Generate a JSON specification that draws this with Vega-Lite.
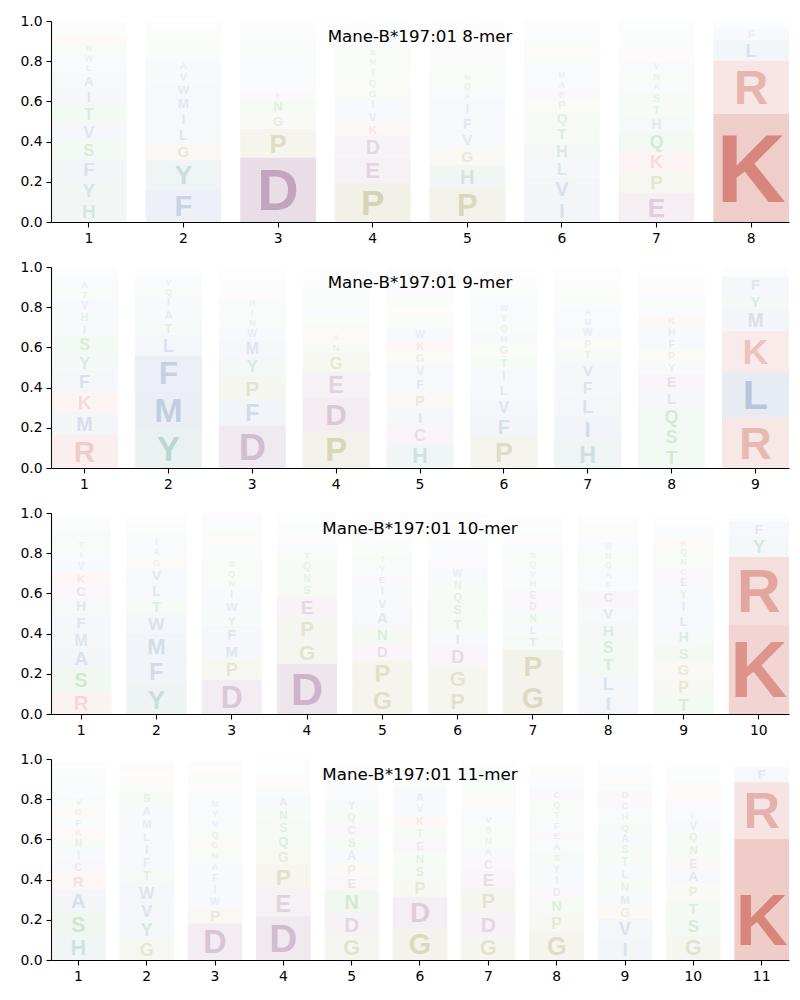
{
"$schema": "https://vega.github.io/schema/vega-lite/v6.json",
"padding": {"left": 19, "top": 14, "right": 5, "bottom": 5},
"spacing": 15,
"datasets": {
"m8": [
{"pos":1,"aa":"H","freq":0.106},{"pos":1,"aa":"Y","freq":0.105},{"pos":1,"aa":"F","freq":0.103},{"pos":1,"aa":"S","freq":0.09},{"pos":1,"aa":"V","freq":0.089},{"pos":1,"aa":"T","freq":0.088},{"pos":1,"aa":"I","freq":0.083},{"pos":1,"aa":"A","freq":0.076},{"pos":1,"aa":"L","freq":0.05},{"pos":1,"aa":"W","freq":0.049},{"pos":1,"aa":"N","freq":0.045},{"pos":1,"aa":"R","freq":0.044},{"pos":1,"aa":"Q","freq":0.025},{"pos":1,"aa":"K","freq":0.02},{"pos":1,"aa":"C","freq":0.015},{"pos":1,"aa":"D","freq":0.006},{"pos":1,"aa":"E","freq":0.005},
{"pos":2,"aa":"F","freq":0.163},{"pos":2,"aa":"Y","freq":0.143},{"pos":2,"aa":"G","freq":0.086},{"pos":2,"aa":"L","freq":0.08},{"pos":2,"aa":"I","freq":0.078},{"pos":2,"aa":"M","freq":0.075},{"pos":2,"aa":"W","freq":0.066},{"pos":2,"aa":"V","freq":0.06},{"pos":2,"aa":"A","freq":0.055},{"pos":2,"aa":"T","freq":0.04},{"pos":2,"aa":"S","freq":0.035},{"pos":2,"aa":"N","freq":0.03},{"pos":2,"aa":"Q","freq":0.025},{"pos":2,"aa":"H","freq":0.02},{"pos":2,"aa":"E","freq":0.015},{"pos":2,"aa":"R","freq":0.011},{"pos":2,"aa":"D","freq":0.01},{"pos":2,"aa":"K","freq":0.008},
{"pos":3,"aa":"D","freq":0.32},{"pos":3,"aa":"P","freq":0.143},{"pos":3,"aa":"G","freq":0.073},{"pos":3,"aa":"N","freq":0.071},{"pos":3,"aa":"E","freq":0.045},{"pos":3,"aa":"L","freq":0.042},{"pos":3,"aa":"I","freq":0.04},{"pos":3,"aa":"A","freq":0.038},{"pos":3,"aa":"V","freq":0.037},{"pos":3,"aa":"S","freq":0.035},{"pos":3,"aa":"T","freq":0.034},{"pos":3,"aa":"Y","freq":0.03},{"pos":3,"aa":"W","freq":0.026},{"pos":3,"aa":"K","freq":0.025},{"pos":3,"aa":"H","freq":0.02},{"pos":3,"aa":"Q","freq":0.015},{"pos":3,"aa":"R","freq":0.006},
{"pos":4,"aa":"P","freq":0.196},{"pos":4,"aa":"E","freq":0.124},{"pos":4,"aa":"D","freq":0.109},{"pos":4,"aa":"K","freq":0.066},{"pos":4,"aa":"V","freq":0.061},{"pos":4,"aa":"I","freq":0.058},{"pos":4,"aa":"G","freq":0.055},{"pos":4,"aa":"Q","freq":0.052},{"pos":4,"aa":"T","freq":0.05},{"pos":4,"aa":"N","freq":0.048},{"pos":4,"aa":"S","freq":0.045},{"pos":4,"aa":"A","freq":0.035},{"pos":4,"aa":"L","freq":0.03},{"pos":4,"aa":"R","freq":0.025},{"pos":4,"aa":"F","freq":0.02},{"pos":4,"aa":"H","freq":0.015},{"pos":4,"aa":"W","freq":0.011},
{"pos":5,"aa":"P","freq":0.171},{"pos":5,"aa":"H","freq":0.113},{"pos":5,"aa":"G","freq":0.086},{"pos":5,"aa":"V","freq":0.08},{"pos":5,"aa":"F","freq":0.077},{"pos":5,"aa":"I","freq":0.075},{"pos":5,"aa":"A","freq":0.048},{"pos":5,"aa":"Q","freq":0.047},{"pos":5,"aa":"N","freq":0.045},{"pos":5,"aa":"T","freq":0.04},{"pos":5,"aa":"L","freq":0.038},{"pos":5,"aa":"E","freq":0.035},{"pos":5,"aa":"Y","freq":0.031},{"pos":5,"aa":"D","freq":0.03},{"pos":5,"aa":"K","freq":0.026},{"pos":5,"aa":"M","freq":0.025},{"pos":5,"aa":"R","freq":0.02},{"pos":5,"aa":"W","freq":0.013},
{"pos":6,"aa":"I","freq":0.11},{"pos":6,"aa":"V","freq":0.108},{"pos":6,"aa":"L","freq":0.09},{"pos":6,"aa":"H","freq":0.088},{"pos":6,"aa":"T","freq":0.08},{"pos":6,"aa":"Q","freq":0.075},{"pos":6,"aa":"P","freq":0.058},{"pos":6,"aa":"E","freq":0.05},{"pos":6,"aa":"A","freq":0.049},{"pos":6,"aa":"M","freq":0.048},{"pos":6,"aa":"W","freq":0.04},{"pos":6,"aa":"N","freq":0.035},{"pos":6,"aa":"K","freq":0.031},{"pos":6,"aa":"S","freq":0.03},{"pos":6,"aa":"G","freq":0.026},{"pos":6,"aa":"F","freq":0.025},{"pos":6,"aa":"Y","freq":0.024},{"pos":6,"aa":"R","freq":0.02},{"pos":6,"aa":"D","freq":0.013},
{"pos":7,"aa":"E","freq":0.145},{"pos":7,"aa":"P","freq":0.105},{"pos":7,"aa":"K","freq":0.1},{"pos":7,"aa":"Q","freq":0.098},{"pos":7,"aa":"H","freq":0.078},{"pos":7,"aa":"T","freq":0.063},{"pos":7,"aa":"S","freq":0.058},{"pos":7,"aa":"A","freq":0.052},{"pos":7,"aa":"N","freq":0.05},{"pos":7,"aa":"V","freq":0.049},{"pos":7,"aa":"R","freq":0.035},{"pos":7,"aa":"D","freq":0.032},{"pos":7,"aa":"Y","freq":0.03},{"pos":7,"aa":"G","freq":0.025},{"pos":7,"aa":"L","freq":0.022},{"pos":7,"aa":"F","freq":0.018},{"pos":7,"aa":"W","freq":0.016},{"pos":7,"aa":"M","freq":0.014},{"pos":7,"aa":"C","freq":0.01},
{"pos":8,"aa":"K","freq":0.537},{"pos":8,"aa":"R","freq":0.265},{"pos":8,"aa":"L","freq":0.103},{"pos":8,"aa":"F","freq":0.058},{"pos":8,"aa":"M","freq":0.015},{"pos":8,"aa":"Y","freq":0.01},{"pos":8,"aa":"H","freq":0.007},{"pos":8,"aa":"I","freq":0.005}
],
"m9": [
{"pos":1,"aa":"R","freq":0.165},{"pos":1,"aa":"M","freq":0.11},{"pos":1,"aa":"K","freq":0.105},{"pos":1,"aa":"F","freq":0.1},{"pos":1,"aa":"Y","freq":0.09},{"pos":1,"aa":"S","freq":0.088},{"pos":1,"aa":"I","freq":0.063},{"pos":1,"aa":"H","freq":0.058},{"pos":1,"aa":"V","freq":0.057},{"pos":1,"aa":"T","freq":0.052},{"pos":1,"aa":"A","freq":0.05},{"pos":1,"aa":"W","freq":0.02},{"pos":1,"aa":"L","freq":0.015},{"pos":1,"aa":"Q","freq":0.011},{"pos":1,"aa":"E","freq":0.009},{"pos":1,"aa":"N","freq":0.007},
{"pos":2,"aa":"Y","freq":0.192},{"pos":2,"aa":"M","freq":0.19},{"pos":2,"aa":"F","freq":0.177},{"pos":2,"aa":"L","freq":0.1},{"pos":2,"aa":"T","freq":0.07},{"pos":2,"aa":"A","freq":0.065},{"pos":2,"aa":"I","freq":0.058},{"pos":2,"aa":"Q","freq":0.05},{"pos":2,"aa":"V","freq":0.045},{"pos":2,"aa":"W","freq":0.02},{"pos":2,"aa":"H","freq":0.012},{"pos":2,"aa":"N","freq":0.011},{"pos":2,"aa":"S","freq":0.009},
{"pos":3,"aa":"D","freq":0.21},{"pos":3,"aa":"F","freq":0.13},{"pos":3,"aa":"P","freq":0.117},{"pos":3,"aa":"Y","freq":0.095},{"pos":3,"aa":"M","freq":0.088},{"pos":3,"aa":"W","freq":0.058},{"pos":3,"aa":"N","freq":0.05},{"pos":3,"aa":"I","freq":0.048},{"pos":3,"aa":"H","freq":0.047},{"pos":3,"aa":"K","freq":0.03},{"pos":3,"aa":"V","freq":0.025},{"pos":3,"aa":"T","freq":0.021},{"pos":3,"aa":"E","freq":0.02},{"pos":3,"aa":"S","freq":0.015},{"pos":3,"aa":"A","freq":0.013},{"pos":3,"aa":"L","freq":0.011},{"pos":3,"aa":"Q","freq":0.009},{"pos":3,"aa":"G","freq":0.006},
{"pos":4,"aa":"P","freq":0.183},{"pos":4,"aa":"D","freq":0.167},{"pos":4,"aa":"E","freq":0.13},{"pos":4,"aa":"G","freq":0.092},{"pos":4,"aa":"N","freq":0.055},{"pos":4,"aa":"K","freq":0.045},{"pos":4,"aa":"S","freq":0.044},{"pos":4,"aa":"Q","freq":0.04},{"pos":4,"aa":"A","freq":0.039},{"pos":4,"aa":"T","freq":0.035},{"pos":4,"aa":"V","freq":0.03},{"pos":4,"aa":"L","freq":0.028},{"pos":4,"aa":"H","freq":0.025},{"pos":4,"aa":"R","freq":0.02},{"pos":4,"aa":"I","freq":0.017},{"pos":4,"aa":"Y","freq":0.015},{"pos":4,"aa":"F","freq":0.012},{"pos":4,"aa":"W","freq":0.01},{"pos":4,"aa":"M","freq":0.008},
{"pos":5,"aa":"H","freq":0.12},{"pos":5,"aa":"C","freq":0.09},{"pos":5,"aa":"I","freq":0.085},{"pos":5,"aa":"P","freq":0.082},{"pos":5,"aa":"F","freq":0.07},{"pos":5,"aa":"V","freq":0.068},{"pos":5,"aa":"G","freq":0.062},{"pos":5,"aa":"K","freq":0.06},{"pos":5,"aa":"W","freq":0.057},{"pos":5,"aa":"N","freq":0.04},{"pos":5,"aa":"T","freq":0.035},{"pos":5,"aa":"R","freq":0.032},{"pos":5,"aa":"S","freq":0.031},{"pos":5,"aa":"Q","freq":0.03},{"pos":5,"aa":"E","freq":0.029},{"pos":5,"aa":"A","freq":0.028},{"pos":5,"aa":"L","freq":0.025},{"pos":5,"aa":"Y","freq":0.021},{"pos":5,"aa":"D","freq":0.02},{"pos":5,"aa":"M","freq":0.015},
{"pos":6,"aa":"P","freq":0.15},{"pos":6,"aa":"F","freq":0.11},{"pos":6,"aa":"V","freq":0.088},{"pos":6,"aa":"L","freq":0.075},{"pos":6,"aa":"I","freq":0.07},{"pos":6,"aa":"T","freq":0.063},{"pos":6,"aa":"G","freq":0.062},{"pos":6,"aa":"H","freq":0.055},{"pos":6,"aa":"Q","freq":0.05},{"pos":6,"aa":"Y","freq":0.048},{"pos":6,"aa":"W","freq":0.047},{"pos":6,"aa":"A","freq":0.03},{"pos":6,"aa":"N","freq":0.026},{"pos":6,"aa":"S","freq":0.025},{"pos":6,"aa":"K","freq":0.021},{"pos":6,"aa":"E","freq":0.02},{"pos":6,"aa":"D","freq":0.016},{"pos":6,"aa":"M","freq":0.015},{"pos":6,"aa":"R","freq":0.011},{"pos":6,"aa":"C","freq":0.01},
{"pos":7,"aa":"H","freq":0.13},{"pos":7,"aa":"I","freq":0.125},{"pos":7,"aa":"L","freq":0.1},{"pos":7,"aa":"F","freq":0.09},{"pos":7,"aa":"V","freq":0.085},{"pos":7,"aa":"T","freq":0.058},{"pos":7,"aa":"P","freq":0.057},{"pos":7,"aa":"W","freq":0.056},{"pos":7,"aa":"M","freq":0.05},{"pos":7,"aa":"A","freq":0.049},{"pos":7,"aa":"Y","freq":0.031},{"pos":7,"aa":"S","freq":0.03},{"pos":7,"aa":"N","freq":0.025},{"pos":7,"aa":"Q","freq":0.021},{"pos":7,"aa":"E","freq":0.02},{"pos":7,"aa":"K","freq":0.019},{"pos":7,"aa":"G","freq":0.015},{"pos":7,"aa":"R","freq":0.011},{"pos":7,"aa":"D","freq":0.01},{"pos":7,"aa":"C","freq":0.009},
{"pos":8,"aa":"T","freq":0.105},{"pos":8,"aa":"S","freq":0.1},{"pos":8,"aa":"Q","freq":0.098},{"pos":8,"aa":"L","freq":0.083},{"pos":8,"aa":"E","freq":0.082},{"pos":8,"aa":"Y","freq":0.061},{"pos":8,"aa":"P","freq":0.06},{"pos":8,"aa":"F","freq":0.058},{"pos":8,"aa":"H","freq":0.057},{"pos":8,"aa":"K","freq":0.055},{"pos":8,"aa":"A","freq":0.04},{"pos":8,"aa":"N","freq":0.035},{"pos":8,"aa":"V","freq":0.031},{"pos":8,"aa":"R","freq":0.03},{"pos":8,"aa":"W","freq":0.025},{"pos":8,"aa":"D","freq":0.021},{"pos":8,"aa":"G","freq":0.02},{"pos":8,"aa":"M","freq":0.015},{"pos":8,"aa":"I","freq":0.012},
{"pos":9,"aa":"R","freq":0.25},{"pos":9,"aa":"L","freq":0.23},{"pos":9,"aa":"K","freq":0.2},{"pos":9,"aa":"M","freq":0.108},{"pos":9,"aa":"Y","freq":0.083},{"pos":9,"aa":"F","freq":0.082},{"pos":9,"aa":"V","freq":0.015},{"pos":9,"aa":"I","freq":0.012},{"pos":9,"aa":"H","freq":0.01},{"pos":9,"aa":"W","freq":0.008}
],
"m10": [
{"pos":1,"aa":"R","freq":0.113},{"pos":1,"aa":"S","freq":0.109},{"pos":1,"aa":"A","freq":0.103},{"pos":1,"aa":"M","freq":0.088},{"pos":1,"aa":"F","freq":0.083},{"pos":1,"aa":"H","freq":0.078},{"pos":1,"aa":"C","freq":0.07},{"pos":1,"aa":"K","freq":0.063},{"pos":1,"aa":"V","freq":0.058},{"pos":1,"aa":"I","freq":0.053},{"pos":1,"aa":"T","freq":0.046},{"pos":1,"aa":"Y","freq":0.04},{"pos":1,"aa":"Q","freq":0.03},{"pos":1,"aa":"G","freq":0.025},{"pos":1,"aa":"N","freq":0.02},{"pos":1,"aa":"L","freq":0.012},{"pos":1,"aa":"W","freq":0.009},
{"pos":2,"aa":"Y","freq":0.146},{"pos":2,"aa":"F","freq":0.129},{"pos":2,"aa":"M","freq":0.124},{"pos":2,"aa":"W","freq":0.096},{"pos":2,"aa":"T","freq":0.078},{"pos":2,"aa":"L","freq":0.077},{"pos":2,"aa":"V","freq":0.076},{"pos":2,"aa":"G","freq":0.053},{"pos":2,"aa":"A","freq":0.05},{"pos":2,"aa":"I","freq":0.049},{"pos":2,"aa":"S","freq":0.03},{"pos":2,"aa":"H","freq":0.021},{"pos":2,"aa":"N","freq":0.02},{"pos":2,"aa":"Q","freq":0.017},{"pos":2,"aa":"E","freq":0.011},{"pos":2,"aa":"K","freq":0.01},{"pos":2,"aa":"P","freq":0.006},
{"pos":3,"aa":"D","freq":0.17},{"pos":3,"aa":"P","freq":0.1},{"pos":3,"aa":"M","freq":0.083},{"pos":3,"aa":"F","freq":0.082},{"pos":3,"aa":"Y","freq":0.066},{"pos":3,"aa":"W","freq":0.065},{"pos":3,"aa":"I","freq":0.058},{"pos":3,"aa":"N","freq":0.05},{"pos":3,"aa":"Q","freq":0.049},{"pos":3,"aa":"S","freq":0.048},{"pos":3,"aa":"A","freq":0.04},{"pos":3,"aa":"H","freq":0.035},{"pos":3,"aa":"K","freq":0.031},{"pos":3,"aa":"T","freq":0.03},{"pos":3,"aa":"V","freq":0.026},{"pos":3,"aa":"L","freq":0.025},{"pos":3,"aa":"E","freq":0.02},{"pos":3,"aa":"C","freq":0.014},{"pos":3,"aa":"R","freq":0.008},
{"pos":4,"aa":"D","freq":0.25},{"pos":4,"aa":"G","freq":0.116},{"pos":4,"aa":"P","freq":0.113},{"pos":4,"aa":"E","freq":0.106},{"pos":4,"aa":"S","freq":0.06},{"pos":4,"aa":"N","freq":0.059},{"pos":4,"aa":"Q","freq":0.058},{"pos":4,"aa":"T","freq":0.05},{"pos":4,"aa":"A","freq":0.041},{"pos":4,"aa":"K","freq":0.03},{"pos":4,"aa":"V","freq":0.025},{"pos":4,"aa":"H","freq":0.021},{"pos":4,"aa":"W","freq":0.02},{"pos":4,"aa":"L","freq":0.015},{"pos":4,"aa":"Y","freq":0.011},{"pos":4,"aa":"R","freq":0.01},{"pos":4,"aa":"F","freq":0.009},{"pos":4,"aa":"M","freq":0.006},
{"pos":5,"aa":"G","freq":0.135},{"pos":5,"aa":"P","freq":0.133},{"pos":5,"aa":"D","freq":0.085},{"pos":5,"aa":"N","freq":0.083},{"pos":5,"aa":"A","freq":0.08},{"pos":5,"aa":"V","freq":0.065},{"pos":5,"aa":"I","freq":0.06},{"pos":5,"aa":"E","freq":0.055},{"pos":5,"aa":"Y","freq":0.05},{"pos":5,"aa":"T","freq":0.045},{"pos":5,"aa":"S","freq":0.04},{"pos":5,"aa":"W","freq":0.03},{"pos":5,"aa":"K","freq":0.025},{"pos":5,"aa":"C","freq":0.022},{"pos":5,"aa":"L","freq":0.021},{"pos":5,"aa":"H","freq":0.02},{"pos":5,"aa":"Q","freq":0.016},{"pos":5,"aa":"F","freq":0.015},{"pos":5,"aa":"M","freq":0.011},{"pos":5,"aa":"R","freq":0.01},
{"pos":6,"aa":"P","freq":0.12},{"pos":6,"aa":"G","freq":0.115},{"pos":6,"aa":"D","freq":0.1},{"pos":6,"aa":"I","freq":0.075},{"pos":6,"aa":"T","freq":0.074},{"pos":6,"aa":"S","freq":0.07},{"pos":6,"aa":"Q","freq":0.06},{"pos":6,"aa":"N","freq":0.058},{"pos":6,"aa":"W","freq":0.057},{"pos":6,"aa":"E","freq":0.04},{"pos":6,"aa":"F","freq":0.035},{"pos":6,"aa":"A","freq":0.031},{"pos":6,"aa":"H","freq":0.03},{"pos":6,"aa":"V","freq":0.025},{"pos":6,"aa":"K","freq":0.022},{"pos":6,"aa":"L","freq":0.021},{"pos":6,"aa":"Y","freq":0.02},{"pos":6,"aa":"M","freq":0.016},{"pos":6,"aa":"R","freq":0.015},{"pos":6,"aa":"C","freq":0.01},
{"pos":7,"aa":"G","freq":0.16},{"pos":7,"aa":"P","freq":0.158},{"pos":7,"aa":"T","freq":0.07},{"pos":7,"aa":"L","freq":0.06},{"pos":7,"aa":"N","freq":0.059},{"pos":7,"aa":"D","freq":0.057},{"pos":7,"aa":"E","freq":0.056},{"pos":7,"aa":"H","freq":0.05},{"pos":7,"aa":"V","freq":0.049},{"pos":7,"aa":"Q","freq":0.048},{"pos":7,"aa":"S","freq":0.045},{"pos":7,"aa":"A","freq":0.035},{"pos":7,"aa":"K","freq":0.031},{"pos":7,"aa":"Y","freq":0.03},{"pos":7,"aa":"W","freq":0.025},{"pos":7,"aa":"F","freq":0.02},{"pos":7,"aa":"M","freq":0.015},{"pos":7,"aa":"R","freq":0.01},{"pos":7,"aa":"I","freq":0.009},
{"pos":8,"aa":"I","freq":0.1},{"pos":8,"aa":"L","freq":0.099},{"pos":8,"aa":"T","freq":0.088},{"pos":8,"aa":"S","freq":0.087},{"pos":8,"aa":"H","freq":0.086},{"pos":8,"aa":"V","freq":0.08},{"pos":8,"aa":"C","freq":0.075},{"pos":8,"aa":"F","freq":0.05},{"pos":8,"aa":"A","freq":0.049},{"pos":8,"aa":"Q","freq":0.048},{"pos":8,"aa":"N","freq":0.047},{"pos":8,"aa":"W","freq":0.046},{"pos":8,"aa":"M","freq":0.03},{"pos":8,"aa":"K","freq":0.025},{"pos":8,"aa":"Y","freq":0.021},{"pos":8,"aa":"E","freq":0.02},{"pos":8,"aa":"R","freq":0.015},{"pos":8,"aa":"G","freq":0.011},{"pos":8,"aa":"D","freq":0.01},
{"pos":9,"aa":"T","freq":0.09},{"pos":9,"aa":"P","freq":0.088},{"pos":9,"aa":"G","freq":0.083},{"pos":9,"aa":"S","freq":0.082},{"pos":9,"aa":"H","freq":0.08},{"pos":9,"aa":"L","freq":0.075},{"pos":9,"aa":"I","freq":0.07},{"pos":9,"aa":"Y","freq":0.058},{"pos":9,"aa":"E","freq":0.057},{"pos":9,"aa":"C","freq":0.05},{"pos":9,"aa":"N","freq":0.048},{"pos":9,"aa":"Q","freq":0.046},{"pos":9,"aa":"K","freq":0.045},{"pos":9,"aa":"A","freq":0.04},{"pos":9,"aa":"V","freq":0.025},{"pos":9,"aa":"F","freq":0.015},{"pos":9,"aa":"W","freq":0.011},{"pos":9,"aa":"M","freq":0.01},{"pos":9,"aa":"D","freq":0.009},
{"pos":10,"aa":"K","freq":0.441},{"pos":10,"aa":"R","freq":0.34},{"pos":10,"aa":"Y","freq":0.1},{"pos":10,"aa":"F","freq":0.075},{"pos":10,"aa":"L","freq":0.02},{"pos":10,"aa":"M","freq":0.012},{"pos":10,"aa":"H","freq":0.01}
],
"m11": [
{"pos":1,"aa":"H","freq":0.12},{"pos":1,"aa":"S","freq":0.118},{"pos":1,"aa":"A","freq":0.112},{"pos":1,"aa":"R","freq":0.085},{"pos":1,"aa":"C","freq":0.058},{"pos":1,"aa":"I","freq":0.057},{"pos":1,"aa":"N","freq":0.056},{"pos":1,"aa":"K","freq":0.053},{"pos":1,"aa":"F","freq":0.052},{"pos":1,"aa":"G","freq":0.05},{"pos":1,"aa":"V","freq":0.049},{"pos":1,"aa":"M","freq":0.035},{"pos":1,"aa":"Y","freq":0.031},{"pos":1,"aa":"T","freq":0.03},{"pos":1,"aa":"L","freq":0.025},{"pos":1,"aa":"Q","freq":0.02},{"pos":1,"aa":"W","freq":0.015},{"pos":1,"aa":"E","freq":0.011},{"pos":1,"aa":"D","freq":0.01},
{"pos":2,"aa":"G","freq":0.1},{"pos":2,"aa":"Y","freq":0.099},{"pos":2,"aa":"V","freq":0.092},{"pos":2,"aa":"W","freq":0.091},{"pos":2,"aa":"T","freq":0.068},{"pos":2,"aa":"F","freq":0.067},{"pos":2,"aa":"I","freq":0.066},{"pos":2,"aa":"L","freq":0.065},{"pos":2,"aa":"M","freq":0.064},{"pos":2,"aa":"A","freq":0.063},{"pos":2,"aa":"S","freq":0.062},{"pos":2,"aa":"Q","freq":0.04},{"pos":2,"aa":"K","freq":0.035},{"pos":2,"aa":"R","freq":0.03},{"pos":2,"aa":"E","freq":0.025},{"pos":2,"aa":"N","freq":0.02},{"pos":2,"aa":"H","freq":0.013},
{"pos":3,"aa":"D","freq":0.18},{"pos":3,"aa":"P","freq":0.085},{"pos":3,"aa":"W","freq":0.058},{"pos":3,"aa":"I","freq":0.057},{"pos":3,"aa":"F","freq":0.056},{"pos":3,"aa":"A","freq":0.055},{"pos":3,"aa":"N","freq":0.054},{"pos":3,"aa":"G","freq":0.053},{"pos":3,"aa":"Q","freq":0.052},{"pos":3,"aa":"V","freq":0.05},{"pos":3,"aa":"Y","freq":0.049},{"pos":3,"aa":"M","freq":0.048},{"pos":3,"aa":"H","freq":0.04},{"pos":3,"aa":"K","freq":0.032},{"pos":3,"aa":"T","freq":0.031},{"pos":3,"aa":"S","freq":0.03},{"pos":3,"aa":"R","freq":0.021},{"pos":3,"aa":"L","freq":0.02},{"pos":3,"aa":"E","freq":0.015},
{"pos":4,"aa":"D","freq":0.216},{"pos":4,"aa":"E","freq":0.133},{"pos":4,"aa":"P","freq":0.126},{"pos":4,"aa":"G","freq":0.078},{"pos":4,"aa":"Q","freq":0.074},{"pos":4,"aa":"S","freq":0.066},{"pos":4,"aa":"N","freq":0.065},{"pos":4,"aa":"A","freq":0.064},{"pos":4,"aa":"T","freq":0.04},{"pos":4,"aa":"K","freq":0.03},{"pos":4,"aa":"V","freq":0.025},{"pos":4,"aa":"H","freq":0.02},{"pos":4,"aa":"L","freq":0.015},{"pos":4,"aa":"Y","freq":0.012},{"pos":4,"aa":"R","freq":0.011},{"pos":4,"aa":"W","freq":0.01},{"pos":4,"aa":"I","freq":0.009},{"pos":4,"aa":"F","freq":0.008},
{"pos":5,"aa":"G","freq":0.12},{"pos":5,"aa":"D","freq":0.115},{"pos":5,"aa":"N","freq":0.11},{"pos":5,"aa":"E","freq":0.07},{"pos":5,"aa":"P","freq":0.069},{"pos":5,"aa":"A","freq":0.068},{"pos":5,"aa":"S","freq":0.066},{"pos":5,"aa":"C","freq":0.065},{"pos":5,"aa":"Q","freq":0.058},{"pos":5,"aa":"Y","freq":0.057},{"pos":5,"aa":"I","freq":0.035},{"pos":5,"aa":"V","freq":0.03},{"pos":5,"aa":"K","freq":0.026},{"pos":5,"aa":"T","freq":0.025},{"pos":5,"aa":"H","freq":0.02},{"pos":5,"aa":"L","freq":0.015},{"pos":5,"aa":"F","freq":0.011},{"pos":5,"aa":"W","freq":0.01},{"pos":5,"aa":"R","freq":0.009},
{"pos":6,"aa":"G","freq":0.16},{"pos":6,"aa":"D","freq":0.155},{"pos":6,"aa":"P","freq":0.091},{"pos":6,"aa":"S","freq":0.066},{"pos":6,"aa":"N","freq":0.065},{"pos":6,"aa":"E","freq":0.064},{"pos":6,"aa":"T","freq":0.063},{"pos":6,"aa":"K","freq":0.06},{"pos":6,"aa":"V","freq":0.058},{"pos":6,"aa":"A","freq":0.057},{"pos":6,"aa":"Y","freq":0.03},{"pos":6,"aa":"H","freq":0.025},{"pos":6,"aa":"L","freq":0.021},{"pos":6,"aa":"F","freq":0.02},{"pos":6,"aa":"Q","freq":0.019},{"pos":6,"aa":"I","freq":0.015},{"pos":6,"aa":"R","freq":0.011},{"pos":6,"aa":"W","freq":0.01},
{"pos":7,"aa":"G","freq":0.12},{"pos":7,"aa":"D","freq":0.117},{"pos":7,"aa":"P","freq":0.113},{"pos":7,"aa":"E","freq":0.095},{"pos":7,"aa":"C","freq":0.066},{"pos":7,"aa":"A","freq":0.055},{"pos":7,"aa":"N","freq":0.054},{"pos":7,"aa":"S","freq":0.053},{"pos":7,"aa":"V","freq":0.052},{"pos":7,"aa":"I","freq":0.042},{"pos":7,"aa":"K","freq":0.041},{"pos":7,"aa":"T","freq":0.04},{"pos":7,"aa":"Q","freq":0.035},{"pos":7,"aa":"Y","freq":0.03},{"pos":7,"aa":"L","freq":0.025},{"pos":7,"aa":"H","freq":0.02},{"pos":7,"aa":"R","freq":0.015},{"pos":7,"aa":"F","freq":0.011},{"pos":7,"aa":"M","freq":0.01},
{"pos":8,"aa":"G","freq":0.14},{"pos":8,"aa":"P","freq":0.09},{"pos":8,"aa":"N","freq":0.08},{"pos":8,"aa":"D","freq":0.058},{"pos":8,"aa":"I","freq":0.057},{"pos":8,"aa":"Y","freq":0.056},{"pos":8,"aa":"S","freq":0.055},{"pos":8,"aa":"A","freq":0.054},{"pos":8,"aa":"E","freq":0.053},{"pos":8,"aa":"F","freq":0.052},{"pos":8,"aa":"T","freq":0.05},{"pos":8,"aa":"Q","freq":0.049},{"pos":8,"aa":"C","freq":0.048},{"pos":8,"aa":"L","freq":0.035},{"pos":8,"aa":"V","freq":0.03},{"pos":8,"aa":"H","freq":0.025},{"pos":8,"aa":"K","freq":0.02},{"pos":8,"aa":"M","freq":0.015},{"pos":8,"aa":"R","freq":0.011},{"pos":8,"aa":"W","freq":0.01},
{"pos":9,"aa":"I","freq":0.104},{"pos":9,"aa":"V","freq":0.1},{"pos":9,"aa":"G","freq":0.066},{"pos":9,"aa":"M","freq":0.065},{"pos":9,"aa":"N","freq":0.064},{"pos":9,"aa":"L","freq":0.063},{"pos":9,"aa":"T","freq":0.058},{"pos":9,"aa":"S","freq":0.057},{"pos":9,"aa":"A","freq":0.056},{"pos":9,"aa":"Q","freq":0.055},{"pos":9,"aa":"H","freq":0.054},{"pos":9,"aa":"C","freq":0.053},{"pos":9,"aa":"D","freq":0.052},{"pos":9,"aa":"Y","freq":0.031},{"pos":9,"aa":"K","freq":0.03},{"pos":9,"aa":"W","freq":0.025},{"pos":9,"aa":"F","freq":0.02},{"pos":9,"aa":"E","freq":0.015},{"pos":9,"aa":"R","freq":0.011},{"pos":9,"aa":"P","freq":0.01},
{"pos":10,"aa":"G","freq":0.12},{"pos":10,"aa":"S","freq":0.095},{"pos":10,"aa":"T","freq":0.086},{"pos":10,"aa":"P","freq":0.075},{"pos":10,"aa":"A","freq":0.074},{"pos":10,"aa":"E","freq":0.066},{"pos":10,"aa":"N","freq":0.065},{"pos":10,"aa":"Q","freq":0.058},{"pos":10,"aa":"V","freq":0.057},{"pos":10,"aa":"L","freq":0.045},{"pos":10,"aa":"D","freq":0.044},{"pos":10,"aa":"R","freq":0.043},{"pos":10,"aa":"K","freq":0.04},{"pos":10,"aa":"H","freq":0.03},{"pos":10,"aa":"Y","freq":0.025},{"pos":10,"aa":"W","freq":0.021},{"pos":10,"aa":"I","freq":0.02},{"pos":10,"aa":"F","freq":0.015},{"pos":10,"aa":"M","freq":0.01},
{"pos":11,"aa":"K","freq":0.602},{"pos":11,"aa":"R","freq":0.282},{"pos":11,"aa":"F","freq":0.075},{"pos":11,"aa":"L","freq":0.015},{"pos":11,"aa":"M","freq":0.011},{"pos":11,"aa":"Y","freq":0.01}
]
},
"vconcat": [
{
"data": {"name": "m8"}, "width": 738, "height": 201,
"title": {"text": "Mane-B*197:01 8-mer"},
"transform": [{"stack": "freq", "groupby": ["pos"], "sort": [{"field": "freq", "order": "descending"}], "as": ["y0", "y1"]}],
"encoding": {
"x": {"field": "pos", "type": "ordinal", "scale": {"paddingInner": 0.2, "paddingOuter": 0}, "axis": {"labelAngle": 0}},
"color": {"field": "aa", "type": "nominal", "legend": null, "scale": {"domain": ["A","C","D","E","F","G","H","I","K","L","M","N","P","Q","R","S","T","V","W","Y"], "range": ["#7b97c0","#a874a8","#a97da4","#a97da4","#7b97c0","#a8a567","#70a89e","#7b97c0","#d8857c","#7b97c0","#7b97c0","#6cb36c","#a8a567","#6cb36c","#d8857c","#6cb36c","#6cb36c","#7b97c0","#7b97c0","#70a89e"]}},
"opacity": {"field": "freq", "type": "quantitative", "legend": null, "scale": {"domain": [0, 0.55], "range": [0.03, 1], "clamp": true}}
},
"layer": [
{"mark": {"type": "rect", "fillOpacity": 0.42}, "encoding": {"y": {"field": "y0", "type": "quantitative", "scale": {"domain": [0, 1], "nice": false}, "axis": {"values": [0, 0.2, 0.4, 0.6, 0.8, 1], "format": ".1f"}}, "y2": {"field": "y1"}}},
{"transform": [{"filter": "datum.freq >= 0.045"}], "mark": {"type": "text", "font": "Liberation Sans", "fontWeight": "bold", "baseline": "bottom", "align": "center", "fillOpacity": 1}, "encoding": {"y": {"field": "y0", "type": "quantitative"}, "text": {"field": "aa"}, "size": {"field": "freq", "type": "quantitative", "legend": null, "scale": {"domain": [0, 0.557], "range": [0, 100], "clamp": true}}}}
]
},
{
"data": {"name": "m9"}, "width": 738, "height": 201,
"title": {"text": "Mane-B*197:01 9-mer"},
"transform": [{"stack": "freq", "groupby": ["pos"], "sort": [{"field": "freq", "order": "descending"}], "as": ["y0", "y1"]}],
"encoding": {
"x": {"field": "pos", "type": "ordinal", "scale": {"paddingInner": 0.2, "paddingOuter": 0}, "axis": {"labelAngle": 0}},
"color": {"field": "aa", "type": "nominal", "legend": null, "scale": {"domain": ["A","C","D","E","F","G","H","I","K","L","M","N","P","Q","R","S","T","V","W","Y"], "range": ["#7b97c0","#a874a8","#a97da4","#a97da4","#7b97c0","#a8a567","#70a89e","#7b97c0","#d8857c","#7b97c0","#7b97c0","#6cb36c","#a8a567","#6cb36c","#d8857c","#6cb36c","#6cb36c","#7b97c0","#7b97c0","#70a89e"]}},
"opacity": {"field": "freq", "type": "quantitative", "legend": null, "scale": {"domain": [0, 0.55], "range": [0.03, 1], "clamp": true}}
},
"layer": [
{"mark": {"type": "rect", "fillOpacity": 0.42}, "encoding": {"y": {"field": "y0", "type": "quantitative", "scale": {"domain": [0, 1], "nice": false}, "axis": {"values": [0, 0.2, 0.4, 0.6, 0.8, 1], "format": ".1f"}}, "y2": {"field": "y1"}}},
{"transform": [{"filter": "datum.freq >= 0.045"}], "mark": {"type": "text", "font": "Liberation Sans", "fontWeight": "bold", "baseline": "bottom", "align": "center", "fillOpacity": 1}, "encoding": {"y": {"field": "y0", "type": "quantitative"}, "text": {"field": "aa"}, "size": {"field": "freq", "type": "quantitative", "legend": null, "scale": {"domain": [0, 0.496], "range": [0, 89], "clamp": true}}}}
]
},
{
"data": {"name": "m10"}, "width": 738, "height": 201,
"title": {"text": "Mane-B*197:01 10-mer"},
"transform": [{"stack": "freq", "groupby": ["pos"], "sort": [{"field": "freq", "order": "descending"}], "as": ["y0", "y1"]}],
"encoding": {
"x": {"field": "pos", "type": "ordinal", "scale": {"paddingInner": 0.2, "paddingOuter": 0}, "axis": {"labelAngle": 0}},
"color": {"field": "aa", "type": "nominal", "legend": null, "scale": {"domain": ["A","C","D","E","F","G","H","I","K","L","M","N","P","Q","R","S","T","V","W","Y"], "range": ["#7b97c0","#a874a8","#a97da4","#a97da4","#7b97c0","#a8a567","#70a89e","#7b97c0","#d8857c","#7b97c0","#7b97c0","#6cb36c","#a8a567","#6cb36c","#d8857c","#6cb36c","#6cb36c","#7b97c0","#7b97c0","#70a89e"]}},
"opacity": {"field": "freq", "type": "quantitative", "legend": null, "scale": {"domain": [0, 0.55], "range": [0.03, 1], "clamp": true}}
},
"layer": [
{"mark": {"type": "rect", "fillOpacity": 0.42}, "encoding": {"y": {"field": "y0", "type": "quantitative", "scale": {"domain": [0, 1], "nice": false}, "axis": {"values": [0, 0.2, 0.4, 0.6, 0.8, 1], "format": ".1f"}}, "y2": {"field": "y1"}}},
{"transform": [{"filter": "datum.freq >= 0.045"}], "mark": {"type": "text", "font": "Liberation Sans", "fontWeight": "bold", "baseline": "bottom", "align": "center", "fillOpacity": 1}, "encoding": {"y": {"field": "y0", "type": "quantitative"}, "text": {"field": "aa"}, "size": {"field": "freq", "type": "quantitative", "legend": null, "scale": {"domain": [0, 0.446], "range": [0, 80], "clamp": true}}}}
]
},
{
"data": {"name": "m11"}, "width": 738, "height": 201,
"title": {"text": "Mane-B*197:01 11-mer"},
"transform": [{"stack": "freq", "groupby": ["pos"], "sort": [{"field": "freq", "order": "descending"}], "as": ["y0", "y1"]}],
"encoding": {
"x": {"field": "pos", "type": "ordinal", "scale": {"paddingInner": 0.2, "paddingOuter": 0}, "axis": {"labelAngle": 0}},
"color": {"field": "aa", "type": "nominal", "legend": null, "scale": {"domain": ["A","C","D","E","F","G","H","I","K","L","M","N","P","Q","R","S","T","V","W","Y"], "range": ["#7b97c0","#a874a8","#a97da4","#a97da4","#7b97c0","#a8a567","#70a89e","#7b97c0","#d8857c","#7b97c0","#7b97c0","#6cb36c","#a8a567","#6cb36c","#d8857c","#6cb36c","#6cb36c","#7b97c0","#7b97c0","#70a89e"]}},
"opacity": {"field": "freq", "type": "quantitative", "legend": null, "scale": {"domain": [0, 0.55], "range": [0.03, 1], "clamp": true}}
},
"layer": [
{"mark": {"type": "rect", "fillOpacity": 0.42}, "encoding": {"y": {"field": "y0", "type": "quantitative", "scale": {"domain": [0, 1], "nice": false}, "axis": {"values": [0, 0.2, 0.4, 0.6, 0.8, 1], "format": ".1f"}}, "y2": {"field": "y1"}}},
{"transform": [{"filter": "datum.freq >= 0.045"}], "mark": {"type": "text", "font": "Liberation Sans", "fontWeight": "bold", "baseline": "bottom", "align": "center", "fillOpacity": 1}, "encoding": {"y": {"field": "y0", "type": "quantitative"}, "text": {"field": "aa"}, "size": {"field": "freq", "type": "quantitative", "legend": null, "scale": {"domain": [0, 0.401], "range": [0, 72], "clamp": true}}}}
]
}
],
"resolve": {"scale": {"size": "independent", "x": "independent", "y": "independent"}},
"config": {
"view": {"stroke": null},
"axis": {"domainColor": "#000000", "tickColor": "#000000", "labelColor": "#000000", "labelFont": "DejaVu Sans", "labelFontSize": 13.9, "tickSize": 5, "tickWidth": 1.1, "domainWidth": 1.1, "labelPadding": 4, "grid": false, "title": null},
"title": {"font": "DejaVu Sans", "fontSize": 16.7, "fontWeight": "normal", "color": "#000000", "anchor": "middle", "frame": "group", "baseline": "alphabetic", "offset": -32}
}
}
